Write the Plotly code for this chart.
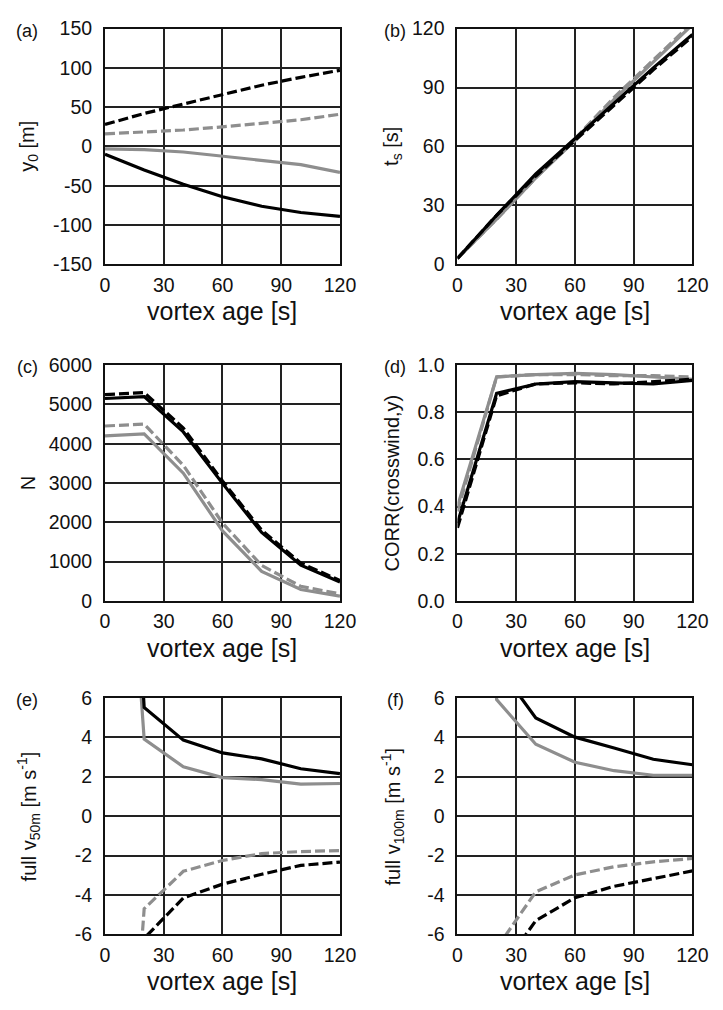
import plotly.graph_objects as go

# ---------------- data ----------------
age = [0, 20, 40, 60, 80, 100, 120]

# (a) y0 [m]
a_black_solid = [-10, -30, -48, -64, -76, -84, -89]
a_black_dash = [28, 42, 54, 66, 78, 88, 97]
a_gray_solid = [-3, -4, -7, -12, -17, -23, -33]
a_gray_dash = [16, 18, 21, 25, 29, 34, 41]

# (b) ts [s]
b_black_solid = [3, 25, 46, 64, 82, 100, 117]
b_black_dash = [3, 25, 45, 63, 81, 99, 116]
b_gray_solid = [3, 23, 44, 63, 84, 103, 122]
b_gray_dash = [3, 23, 44, 64, 85, 104, 123]

# (c) N
c_black_solid = [5150, 5200, 4300, 2990, 1740, 910, 480]
c_black_dash = [5250, 5300, 4400, 3050, 1800, 960, 520]
c_gray_solid = [4200, 4250, 3250, 1780, 750, 290, 120]
c_gray_dash = [4450, 4500, 3450, 1980, 900, 370, 180]

# (d) CORR(crosswind, y)
d_black_solid = [0.33, 0.88, 0.92, 0.93, 0.925, 0.92, 0.935]
d_black_dash = [0.31, 0.87, 0.92, 0.925, 0.92, 0.93, 0.94]
d_gray_solid = [0.40, 0.95, 0.96, 0.965, 0.96, 0.95, 0.94]
d_gray_dash = [0.38, 0.95, 0.96, 0.96, 0.955, 0.955, 0.95]

# (e) full v50m [m s-1]
e_black_solid = [40, 5.5, 3.85, 3.2, 2.9, 2.4, 2.15]
e_black_dash = [-40, -6.2, -4.15, -3.45, -2.95, -2.5, -2.33]
e_gray_solid = [32, 3.9, 2.5, 1.95, 1.85, 1.62, 1.65]
e_gray_dash = [-32, -4.7, -2.8, -2.25, -1.9, -1.8, -1.75]

# (f) full v100m [m s-1]
f_black_solid = [30, 7.7, 4.97, 4.0, 3.45, 2.88, 2.6]
f_black_dash = [-30, -8.1, -5.3, -4.14, -3.56, -3.15, -2.78]
f_gray_solid = [40, 5.9, 3.64, 2.73, 2.3, 2.07, 2.07]
f_gray_dash = [-30, -6.7, -3.84, -2.98, -2.57, -2.32, -2.15]

# tick labels
x_ticks = [0, 30, 60, 90, 120]
x_ticklabels = ["0", "30", "60", "90", "120"]
a_yticks = [-150, -100, -50, 0, 50, 100, 150]
a_ylabels = ["-150", "-100", "-50", "0", "50", "100", "150"]
b_yticks = [0, 30, 60, 90, 120]
b_ylabels = ["0", "30", "60", "90", "120"]
c_yticks = [0, 1000, 2000, 3000, 4000, 5000, 6000]
c_ylabels = ["0", "1000", "2000", "3000", "4000", "5000", "6000"]
d_yticks = [0, 0.2, 0.4, 0.6, 0.8, 1.0]
d_ylabels = ["0.0", "0.2", "0.4", "0.6", "0.8", "1.0"]
ef_yticks = [-6, -4, -2, 0, 2, 4, 6]
ef_ylabels = ["-6", "-4", "-2", "0", "2", "4", "6"]

panels = [
    dict(lab="(a)", ytitle="y<sub>0</sub> [m]", yr=[-150, 150], yt=a_yticks, yl=a_ylabels,
         ys=[a_black_solid, a_black_dash, a_gray_solid, a_gray_dash]),
    dict(lab="(b)", ytitle="t<sub>s</sub> [s]", yr=[0, 120], yt=b_yticks, yl=b_ylabels,
         ys=[b_black_solid, b_black_dash, b_gray_solid, b_gray_dash]),
    dict(lab="(c)", ytitle="N", yr=[0, 6000], yt=c_yticks, yl=c_ylabels,
         ys=[c_black_solid, c_black_dash, c_gray_solid, c_gray_dash]),
    dict(lab="(d)", ytitle="CORR(crosswind,y)", yr=[0, 1], yt=d_yticks, yl=d_ylabels,
         ys=[d_black_solid, d_black_dash, d_gray_solid, d_gray_dash]),
    dict(lab="(e)", ytitle="full v<sub>50m</sub> [m s<sup>-1</sup>]", yr=[-6, 6], yt=ef_yticks, yl=ef_ylabels,
         ys=[e_black_solid, e_black_dash, e_gray_solid, e_gray_dash]),
    dict(lab="(f)", ytitle="full v<sub>100m</sub> [m s<sup>-1</sup>]", yr=[-6, 6], yt=ef_yticks, yl=ef_ylabels,
         ys=[f_black_solid, f_black_dash, f_gray_solid, f_gray_dash]),
]

W, H = 723, 1010
col_x = [(103, 345), (466, 708)]
row_y = [(18, 259), (362, 603), (702, 944)]

BLACK = "#000000"
GRAY = "#8e8e8e"
styles = [(BLACK, "solid"), (BLACK, "10px,4px"), (GRAY, "solid"), (GRAY, "10px,4px")]
order = [3, 2, 0, 1]  # drawing order

FONT = "Liberation Sans, Arial, Helvetica, sans-serif"
TXT = "#111111"
fig = go.Figure()
annotations = []

for i, p in enumerate(panels):
    r, c = divmod(i, 2)
    x0, x1 = col_x[c]
    yt, yb = row_y[r]
    n = i + 1
    xa = "x" if n == 1 else f"x{n}"
    ya = "y" if n == 1 else f"y{n}"
    for k in order:
        col, dash = styles[k]
        fig.add_trace(go.Scatter(x=age, y=p["ys"][k], mode="lines", xaxis=xa, yaxis=ya,
                                 line=dict(color=col, width=3.2, dash=dash),
                                 showlegend=False, hoverinfo="skip"))
    axcommon = dict(showline=True, mirror=True, linecolor="#111", linewidth=2,
                    showgrid=True, gridcolor="#222", gridwidth=1.6, zeroline=False,
                    ticks="", tickfont=dict(family=FONT, size=19.5, color=TXT))
    fig.update_layout(**{
        ("xaxis" if n == 1 else f"xaxis{n}"): dict(
            domain=[x0 / W, x1 / W], anchor=ya, range=[0, 120], tickmode="array",
            tickvals=x_ticks, ticktext=x_ticklabels, ticklabelstandoff=2, **axcommon),
        ("yaxis" if n == 1 else f"yaxis{n}"): dict(
            domain=[1 - yb / H, 1 - yt / H], anchor=xa, range=p["yr"], tickmode="array",
            tickvals=p["yt"], ticktext=p["yl"], ticklabelstandoff=7, **axcommon),
    })
    # x title
    annotations.append(dict(text="vortex age [s]", x=(x0 + x1) / 2 / W, y=1 - (yb + 48) / H,
                            xref="paper", yref="paper", showarrow=False,
                            xanchor="center", yanchor="middle",
                            font=dict(family=FONT, size=25, color=TXT)))
    # y title
    ytx = 24 if c == 0 else 399
    annotations.append(dict(text=p["ytitle"], x=ytx / W, y=1 - ((yt + yb) / 2) / H,
                            xref="paper", yref="paper", showarrow=False, textangle=-90,
                            xanchor="center", yanchor="middle",
                            font=dict(family=FONT, size=20, color=TXT)))
    # panel label
    lx = 23 if c == 0 else 402
    annotations.append(dict(text=p["lab"], x=lx / W, y=1 - (yt + 2) / H,
                            xref="paper", yref="paper", showarrow=False,
                            xanchor="center", yanchor="middle",
                            font=dict(family=FONT, size=18, color=TXT)))

fig.update_layout(width=W, height=H, margin=dict(l=0, r=0, t=0, b=0),
                  paper_bgcolor="white", plot_bgcolor="white",
                  annotations=annotations)
fig.write_html("out.html")
